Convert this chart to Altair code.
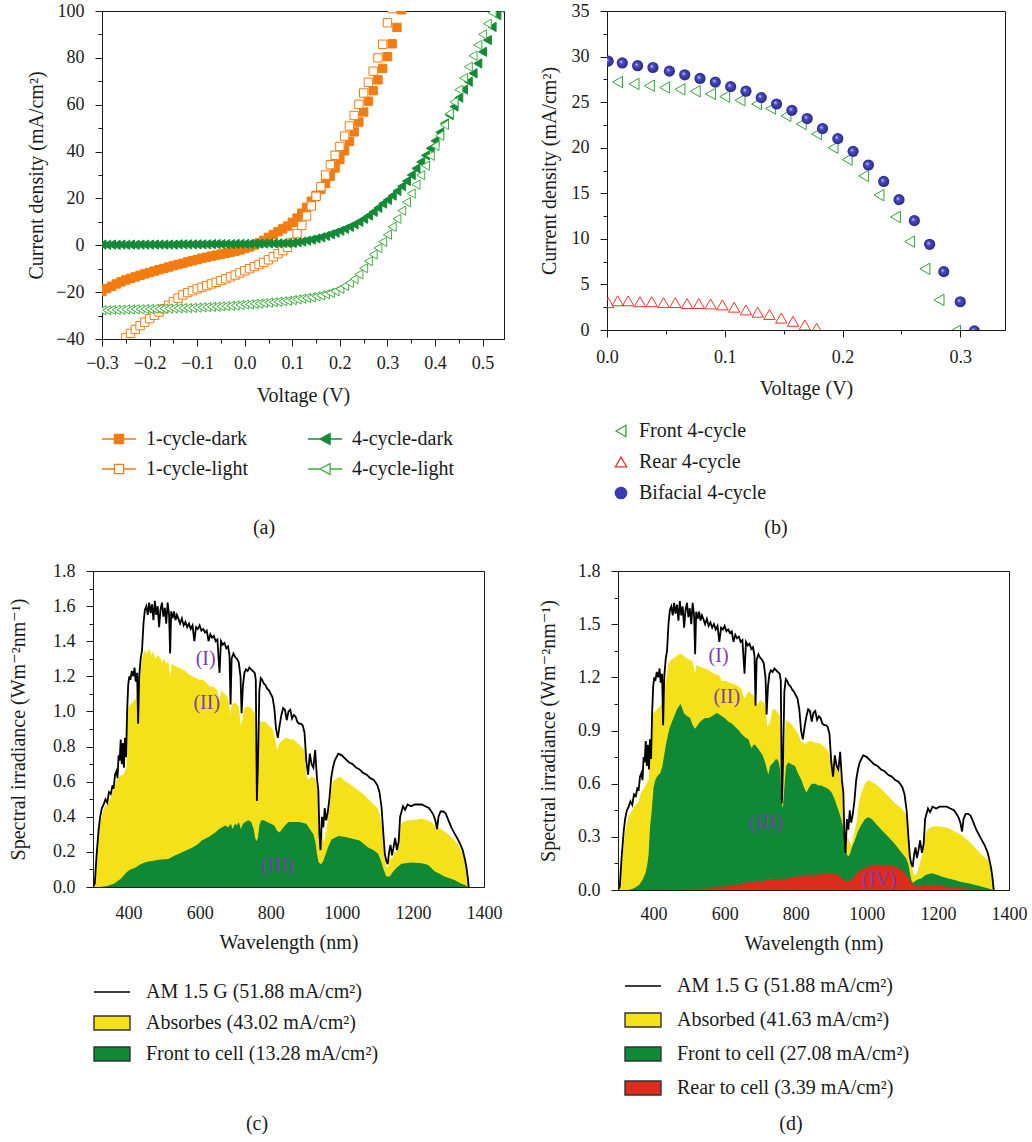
import altair as alt
import pandas as pd

SERIF = "Liberation Serif, DejaVu Serif, serif"
INK = "#1a1a1a"
ORANGE = "#f47b10"
GREEN_D = "#138a36"
GREEN_L = "#3fae3f"
B_GREEN = "#2fa534"
B_RED = "#e8352a"
B_BLUE = "#3a3bb0"
YEL = "#f4e11a"
GRN = "#0f8936"
RED = "#dc2c1c"
PURPLE = "#7a3cb0"

# ---------------- panel (a) ----------------
V_GRID = [-0.30, -0.29, -0.28, -0.27, -0.26, -0.25, -0.24, -0.23, -0.22, -0.21,
          -0.20, -0.19, -0.18, -0.17, -0.16, -0.15, -0.14, -0.13, -0.12, -0.11,
          -0.10, -0.09, -0.08, -0.07, -0.06, -0.05, -0.04, -0.03, -0.02, -0.01,
          0.00, 0.01, 0.02, 0.03, 0.04, 0.05, 0.06, 0.07, 0.08, 0.09,
          0.10, 0.11, 0.12, 0.13, 0.14, 0.15, 0.16, 0.17, 0.18, 0.19,
          0.20, 0.21, 0.22, 0.23, 0.24, 0.25, 0.26, 0.27, 0.28, 0.29,
          0.30, 0.31, 0.32, 0.33, 0.34, 0.35, 0.36, 0.37, 0.38, 0.39,
          0.40, 0.41, 0.42, 0.43, 0.44, 0.45, 0.46, 0.47, 0.48, 0.49,
          0.50, 0.51, 0.52, 0.53, 0.54]

a_j_1dark = [-19.6, -18.5, -17.5, -16.5, -15.6, -14.8, -14.1, -13.5, -12.8, -12.2,
             -11.6, -11.0, -10.4, -9.9, -9.3, -8.7, -8.2, -7.7, -7.1, -6.6,
             -6.1, -5.5, -5.1, -4.6, -4.2, -3.8, -3.4, -3.0, -2.5, -2.0,
             -1.4, -0.7, 0.1, 1.0, 2.1, 3.4, 4.6, 5.8, 7.0, 8.2,
             9.8, 11.6, 13.7, 16.2, 18.8, 21.3, 23.9, 26.4, 29.5, 33.0,
             36.6, 40.3, 44.3, 48.4, 52.6, 56.9, 61.5, 66.0, 70.6, 75.5,
             80.5, 86.0, 93.0, 100.5]
a_j_1light = [-39.4, -37.6, -35.9, -34.3, -32.8, -31.3, -29.9, -28.5, -27.1, -25.6,
              -24.1, -22.6, -21.2, -20.2, -19.4, -18.6, -17.9, -17.2, -16.5, -15.8,
              -15.1, -14.3, -13.5, -12.7, -11.8, -10.9, -10.0, -9.1, -8.2, -7.3,
              -6.2, -4.9, -3.6, -2.3, -0.9, 1.2, 5.0, 8.5, 12.5, 16.8,
              20.9, 25.0, 30.0, 34.4, 38.4, 42.2, 46.6, 50.9, 55.4, 60.2,
              65.0, 69.6, 74.3, 80.0, 85.8, 95.0, 101.0]
a_j_4dark = [0.3, 0.2, 0.3, 0.2, 0.3, 0.2, 0.3, 0.2, 0.3, 0.3,
             0.3, 0.3, 0.3, 0.3, 0.3, 0.3, 0.4, 0.4, 0.4, 0.4,
             0.4, 0.4, 0.4, 0.5, 0.5, 0.5, 0.5, 0.5, 0.6, 0.6,
             0.6, 0.6, 0.7, 0.7, 0.7, 0.8, 0.8, 0.8, 0.9, 0.9,
             1.0, 1.3, 1.6, 2.0, 2.4, 2.9, 3.4, 4.0, 4.7, 5.4,
             6.2, 7.0, 7.9, 8.9, 10.0, 11.3, 12.7, 14.3, 16.0, 17.8,
             19.4, 21.2, 23.2, 25.2, 27.4, 30.0, 32.8, 35.6, 38.4, 41.4,
             44.6, 48.2, 52.0, 55.6, 59.2, 63.0, 66.5, 69.8, 73.4, 77.6,
             82.6, 87.6, 93.2, 98.2, 101.0]
a_j_4light = [-27.8, -27.7, -27.6, -27.6, -27.5, -27.4, -27.4, -27.3, -27.3, -27.2,
              -27.2, -27.1, -27.1, -27.0, -27.0, -26.9, -26.9, -26.8, -26.8, -26.7,
              -26.6, -26.5, -26.4, -26.3, -26.2, -26.1, -26.0, -25.8, -25.7, -25.5,
              -25.3, -25.2, -25.0, -24.9, -24.7, -24.5, -24.3, -24.1, -23.9, -23.7,
              -23.4, -23.1, -22.8, -22.5, -22.2, -21.8, -21.4, -20.9, -20.3, -19.6,
              -18.6, -17.4, -16.0, -14.4, -12.4, -9.8, -6.8, -3.9, -1.2, 1.5,
              4.5, 7.9, 11.3, 14.8, 18.4, 22.1, 25.9, 29.9, 34.0, 38.2,
              42.4, 46.8, 51.4, 56.2, 61.2, 66.4, 71.4, 76.2, 80.9, 85.5,
              90.0, 94.6, 99.3, 104.0]
a_names = ["1-cycle-dark", "1-cycle-light", "4-cycle-dark", "4-cycle-light"]
a_xticks = [-0.3, -0.25, -0.2, -0.15, -0.1, -0.05, 0.0, 0.05, 0.1, 0.15, 0.2, 0.25, 0.3, 0.35, 0.4, 0.45, 0.5]
a_yticks = [-40, -30, -20, -10, 0, 10, 20, 30, 40, 50, 60, 70, 80, 90, 100]

# ---------------- panel (b) ----------------
b_front_v = [0.009, 0.023, 0.036, 0.049, 0.062, 0.075, 0.088, 0.100, 0.113, 0.127, 0.139, 0.152,
             0.165, 0.178, 0.192, 0.204, 0.218, 0.231, 0.245, 0.257, 0.270, 0.282, 0.296]
b_front_j = [27.2, 27.0, 26.8, 26.6, 26.4, 26.2, 25.9, 25.6, 25.2, 24.8, 24.3, 23.5,
             22.6, 21.5, 20.0, 18.7, 16.9, 14.8, 12.4, 9.7, 6.7, 3.3, -0.1]
b_rear_v = [0.001, 0.009, 0.018, 0.028, 0.038, 0.048, 0.058, 0.068, 0.078, 0.088,
            0.098, 0.108, 0.118, 0.128, 0.138, 0.148, 0.158, 0.168, 0.178]
b_rear_j = [3.0, 3.2, 3.2, 3.1, 3.1, 3.0, 3.0, 2.9, 2.9, 2.85,
            2.75, 2.5, 2.2, 1.95, 1.7, 1.3, 0.95, 0.55, 0.2]
b_bif_v = [0.001, 0.013, 0.026, 0.039, 0.053, 0.066, 0.079, 0.092, 0.105, 0.118, 0.131, 0.144,
           0.157, 0.170, 0.183, 0.196, 0.209, 0.222, 0.235, 0.248, 0.261, 0.274, 0.286, 0.300, 0.312]
b_bif_j = [29.5, 29.3, 29.0, 28.8, 28.4, 28.0, 27.6, 27.2, 26.7, 26.2, 25.5, 24.8,
           24.1, 23.2, 22.1, 21.0, 19.6, 18.1, 16.3, 14.3, 12.0, 9.4, 6.4, 3.1, -0.1]
b_names = ["Front 4-cycle", "Rear 4-cycle", "Bifacial 4-cycle"]
b_xticks = [0.0, 0.05, 0.1, 0.15, 0.2, 0.25, 0.3]
b_yticks = [0, 2.5, 5, 7.5, 10, 12.5, 15, 17.5, 20, 22.5, 25, 27.5, 30, 32.5, 35]

# ---------------- panels (c) and (d): AM 1.5 G ----------------
am_nm = [300, 305, 310, 316, 320, 325, 330, 335, 340, 345,
         350, 355, 358, 362, 366, 369, 372, 375, 378, 381,
         384, 387, 390, 393, 396, 399, 402, 405, 409, 413,
         417, 420, 424, 427, 430, 434, 438, 442, 446, 450,
         454, 458, 462, 466, 470, 474, 478, 482, 486, 490,
         494, 498, 502, 506, 510, 514, 517, 520, 524, 528,
         532, 536, 540, 545, 550, 555, 560, 565, 570, 575,
         580, 585, 590, 595, 600, 605, 610, 615, 620, 625,
         630, 635, 640, 645, 650, 656, 660, 665, 670, 675,
         680, 684, 687, 690, 695, 700, 705, 710, 715, 718,
         722, 726, 730, 735, 740, 745, 750, 755, 758, 761,
         764, 768, 772, 776, 780, 785, 790, 795, 800, 805,
         810, 815, 820, 825, 830, 835, 840, 845, 850, 855,
         860, 865, 870, 875, 880, 885, 890, 895, 900, 905,
         910, 915, 920, 925, 930, 934, 937, 940, 944, 948,
         952, 956, 960, 965, 970, 975, 980, 985, 990, 1000,
         1010, 1020, 1030, 1040, 1050, 1060, 1070, 1080, 1090, 1100,
         1106, 1112, 1117, 1121, 1125, 1129, 1133, 1137, 1141, 1145,
         1150, 1155, 1160, 1164, 1168, 1172, 1178, 1185, 1195, 1205,
         1215, 1225, 1235, 1245, 1252, 1258, 1263, 1268, 1272, 1278,
         1285, 1292, 1300, 1308, 1316, 1324, 1332, 1340, 1346, 1350,
         1354, 1357]
am_val = [0.0, 0.02, 0.18, 0.33, 0.40, 0.45, 0.47, 0.50, 0.48, 0.54,
          0.53, 0.58, 0.56, 0.64, 0.66, 0.62, 0.75, 0.72, 0.84, 0.70,
          0.82, 0.68, 0.85, 0.74, 1.00, 1.15, 1.20, 1.18, 1.23, 1.20,
          1.25, 1.17, 1.22, 0.93, 1.20, 1.30, 1.35, 1.50, 1.58, 1.60,
          1.55, 1.62, 1.56, 1.61, 1.52, 1.63, 1.55, 1.60, 1.48, 1.58,
          1.62, 1.54, 1.59, 1.50, 1.62, 1.55, 1.33, 1.57, 1.53, 1.57,
          1.52, 1.55, 1.53, 1.50, 1.53, 1.49, 1.51, 1.48, 1.50, 1.47,
          1.49, 1.40, 1.48, 1.47, 1.49, 1.46, 1.47, 1.45, 1.46, 1.40,
          1.44, 1.42, 1.43, 1.40, 1.41, 1.22, 1.40, 1.38, 1.39, 1.36,
          1.37, 1.32, 1.04, 1.30, 1.33, 1.31, 1.30, 1.28, 1.20, 0.99,
          1.15, 1.22, 1.24, 1.23, 1.25, 1.24, 1.23, 1.22, 1.18, 0.49,
          0.70, 1.12, 1.19, 1.18, 1.16, 1.15, 1.13, 1.12, 1.10, 1.08,
          1.02, 0.90, 0.85, 0.92, 0.98, 1.02, 1.01, 0.95, 1.00, 1.01,
          0.96, 0.98, 0.97, 0.94, 0.93, 0.93, 0.92, 0.88, 0.72, 0.64,
          0.76, 0.70, 0.68, 0.78, 0.62, 0.55, 0.30, 0.21, 0.40, 0.34,
          0.45, 0.38, 0.42, 0.50, 0.62, 0.68, 0.72, 0.74, 0.76, 0.75,
          0.73, 0.71, 0.70, 0.68, 0.67, 0.65, 0.64, 0.62, 0.61, 0.58,
          0.54, 0.45, 0.30, 0.19, 0.15, 0.13, 0.20, 0.24, 0.18, 0.22,
          0.28, 0.21, 0.26, 0.40, 0.43, 0.46, 0.44, 0.47, 0.46, 0.47,
          0.47, 0.47, 0.46, 0.45, 0.43, 0.41, 0.38, 0.33, 0.40, 0.43,
          0.43, 0.42, 0.38, 0.34, 0.31, 0.28, 0.25, 0.21, 0.16, 0.12,
          0.06, 0.0]

# (c) absorbed and front-to-cell
yc_nm = [300, 305, 310, 316, 320, 325, 330, 335, 340, 345,
         350, 355, 360, 365, 370, 375, 380, 385, 390, 394,
         396, 399, 405, 410, 415, 420, 424, 427, 430, 434,
         438, 442, 446, 452, 458, 464, 470, 476, 482, 488,
         494, 500, 506, 512, 517, 522, 530, 540, 550, 560,
         570, 580, 590, 600, 610, 620, 630, 640, 650, 656,
         660, 670, 680, 687, 690, 700, 710, 716, 720, 725,
         735, 745, 755, 758, 761, 764, 768, 775, 785, 795,
         805, 812, 818, 825, 835, 845, 855, 865, 875, 885,
         895, 900, 905, 915, 925, 932, 937, 940, 945, 950,
         957, 965, 970, 975, 985, 995, 1005, 1020, 1040, 1060,
         1080, 1100, 1106, 1112, 1117, 1121, 1125, 1130, 1135, 1141,
         1148, 1155, 1160, 1165, 1170, 1186, 1200, 1224, 1240, 1252,
         1265, 1280, 1299, 1315, 1327, 1340, 1346, 1350, 1354, 1357]
yc_val = [0.0, 0.02, 0.15, 0.30, 0.37, 0.41, 0.44, 0.47, 0.46, 0.50,
          0.50, 0.55, 0.56, 0.60, 0.62, 0.63, 0.64, 0.64, 0.66, 0.68,
          0.92, 1.02, 1.04, 1.05, 1.06, 1.07, 1.10, 0.93, 1.15, 1.22,
          1.30, 1.33, 1.35, 1.33, 1.36, 1.32, 1.34, 1.30, 1.32, 1.31,
          1.28, 1.30, 1.27, 1.29, 1.20, 1.27, 1.26, 1.25, 1.24, 1.23,
          1.21, 1.20, 1.19, 1.18, 1.18, 1.16, 1.14, 1.14, 1.12, 1.05,
          1.12, 1.10, 1.08, 0.98, 1.04, 1.05, 1.03, 0.92, 0.95, 1.02,
          1.03, 1.02, 0.99, 0.96, 0.48, 0.65, 0.95, 0.94, 0.94, 0.92,
          0.90, 0.85, 0.78, 0.82, 0.84, 0.85, 0.84, 0.84, 0.82, 0.80,
          0.78, 0.65, 0.61, 0.63, 0.62, 0.55, 0.28, 0.20, 0.32, 0.25,
          0.33, 0.45, 0.55, 0.60, 0.62, 0.63, 0.61, 0.59, 0.56, 0.53,
          0.49, 0.45, 0.42, 0.36, 0.25, 0.15, 0.12, 0.11, 0.17, 0.16,
          0.20, 0.20, 0.24, 0.35, 0.37, 0.38, 0.38, 0.39, 0.38, 0.37,
          0.34, 0.33, 0.30, 0.27, 0.24, 0.19, 0.15, 0.11, 0.05, 0.0]
gc_nm = [300, 320, 340, 360, 380, 395, 405, 419, 430, 445,
         456, 470, 485, 500, 512, 530, 548, 560, 580, 595,
         606, 625, 644, 655, 663, 672, 680, 688, 692, 700,
         705, 710, 716, 722, 728, 737, 745, 752, 756, 760,
         764, 768, 773, 780, 790, 800, 810, 818, 825, 832,
         840, 850, 860, 870, 880, 900, 910, 920, 926, 930,
         935, 942, 948, 955, 962, 971, 990, 1010, 1030, 1050,
         1074, 1090, 1102, 1110, 1116, 1125, 1135, 1145, 1154, 1168,
         1196, 1225, 1243, 1261, 1275, 1289, 1303, 1317, 1335, 1348,
         1354]
gc_val = [0.0, 0.0, 0.005, 0.02, 0.05, 0.085, 0.10, 0.11, 0.125, 0.14,
          0.145, 0.15, 0.155, 0.158, 0.16, 0.18, 0.195, 0.206, 0.225, 0.243,
          0.265, 0.285, 0.31, 0.33, 0.34, 0.35, 0.34, 0.36, 0.33, 0.36,
          0.35, 0.37, 0.33, 0.36, 0.37, 0.38, 0.37, 0.33, 0.28, 0.26,
          0.28, 0.35, 0.38, 0.38, 0.37, 0.36, 0.35, 0.32, 0.31, 0.33,
          0.35, 0.37, 0.37, 0.37, 0.37, 0.36, 0.33, 0.30, 0.25, 0.19,
          0.14, 0.13, 0.15, 0.19, 0.23, 0.27, 0.29, 0.285, 0.275, 0.265,
          0.225, 0.21, 0.19, 0.15, 0.11, 0.06, 0.06, 0.09, 0.11, 0.133,
          0.139, 0.135, 0.126, 0.09, 0.075, 0.06, 0.05, 0.04, 0.02, 0.01,
          0.0]

# (d) absorbed, front-to-cell and rear-to-cell
yd_nm = [300, 305, 311, 320, 330, 340, 350, 358, 365, 372,
         380, 386, 390, 395, 400, 410, 420, 424, 428, 432,
         438, 442, 450, 460, 470, 480, 490, 500, 510, 517,
         520, 530, 545, 555, 570, 585, 592, 600, 615, 630,
         645, 656, 667, 680, 686, 690, 700, 714, 720, 728,
         735, 742, 750, 755, 761, 765, 772, 779, 790, 800,
         807, 815, 826, 835, 845, 855, 865, 873, 885, 892,
         900, 910, 920, 929, 935, 940, 945, 950, 957, 965,
         971, 978, 985, 995, 1004, 1023, 1041, 1060, 1079, 1098,
         1110, 1116, 1121, 1126, 1130, 1135, 1142, 1149, 1156, 1163,
         1170, 1177, 1190, 1200, 1215, 1229, 1247, 1266, 1285, 1300,
         1313, 1327, 1341, 1350, 1354, 1357]
yd_val = [0.0, 0.05, 0.15, 0.33, 0.42, 0.45, 0.48, 0.50, 0.55, 0.57,
          0.60, 0.62, 0.75, 0.98, 1.00, 1.02, 1.04, 1.06, 0.95, 1.15,
          1.22, 1.28, 1.30, 1.31, 1.33, 1.33, 1.31, 1.30, 1.29, 1.22,
          1.27, 1.26, 1.25, 1.24, 1.22, 1.21, 1.18, 1.18, 1.17, 1.16,
          1.14, 1.08, 1.12, 1.10, 1.08, 1.04, 1.07, 1.05, 0.92, 0.95,
          1.02, 1.02, 1.00, 0.98, 0.47, 0.70, 0.96, 0.95, 0.93, 0.90,
          0.88, 0.84, 0.82, 0.84, 0.84, 0.83, 0.83, 0.82, 0.80, 0.78,
          0.74, 0.70, 0.67, 0.64, 0.50, 0.35, 0.30, 0.28, 0.25, 0.33,
          0.38, 0.50, 0.55, 0.60, 0.62, 0.60, 0.57, 0.53, 0.49, 0.46,
          0.43, 0.40, 0.25, 0.15, 0.10, 0.08, 0.10, 0.15, 0.20, 0.30,
          0.34, 0.35, 0.36, 0.36, 0.355, 0.35, 0.33, 0.31, 0.28, 0.25,
          0.22, 0.19, 0.17, 0.12, 0.05, 0.0]
gd_nm = [300, 330, 345, 360, 370, 378, 383, 386, 390, 395,
         400, 405, 410, 419, 425, 433, 440, 446, 452, 460,
         466, 472, 476, 480, 485, 489, 495, 503, 510, 517,
         524, 531, 538, 545, 555, 564, 572, 578, 585, 592,
         600, 611, 620, 630, 640, 648, 658, 667, 672, 676,
         681, 686, 693, 700, 707, 714, 719, 723, 728, 737,
         745, 751, 756, 760, 764, 768, 773, 779, 788, 798,
         806, 816, 823, 830, 838, 845, 855, 864, 872, 882,
         892, 901, 910, 920, 928, 934, 940, 944, 948, 952,
         958, 966, 975, 985, 995, 1004, 1014, 1023, 1041, 1060,
         1079, 1098, 1110, 1116, 1121, 1126, 1131, 1135, 1145, 1154,
         1165, 1182, 1200, 1210, 1230, 1247, 1265, 1285, 1305, 1322,
         1340, 1355]
gd_val = [0.0, 0.0, 0.01, 0.03, 0.06, 0.10, 0.15, 0.20, 0.35, 0.45,
          0.58, 0.62, 0.64, 0.66, 0.70, 0.80, 0.87, 0.92, 0.95, 0.99,
          1.02, 1.04, 1.05, 1.03, 1.00, 0.99, 0.98, 0.97, 0.93, 0.91,
          0.93, 0.95, 0.96, 0.97, 0.97, 0.98, 0.99, 1.00, 0.99, 0.98,
          0.97, 0.95, 0.94, 0.92, 0.90, 0.88, 0.86, 0.85, 0.82, 0.80,
          0.82, 0.82, 0.80, 0.78, 0.76, 0.72, 0.68, 0.65, 0.70, 0.72,
          0.74, 0.73, 0.68, 0.50, 0.46, 0.58, 0.70, 0.72, 0.71, 0.70,
          0.66, 0.62, 0.58, 0.55, 0.58, 0.60, 0.60, 0.59, 0.59, 0.58,
          0.57, 0.55, 0.51, 0.45, 0.40, 0.35, 0.25, 0.20, 0.19, 0.20,
          0.24, 0.28, 0.33, 0.37, 0.40, 0.41, 0.40, 0.38, 0.34, 0.30,
          0.26, 0.21, 0.18, 0.15, 0.10, 0.05, 0.04, 0.05, 0.06, 0.066,
          0.085, 0.095, 0.085, 0.076, 0.065, 0.057, 0.045, 0.038, 0.028, 0.02,
          0.01, 0.0]
rd_nm = [300, 385, 450, 500, 550, 572, 590, 605, 619, 635,
         650, 666, 680, 690, 700, 713, 725, 740, 750, 760,
         770, 780, 795, 807, 820, 830, 840, 853, 865, 878,
         891, 900, 910, 919, 928, 935, 942, 950, 957, 966,
         976, 990, 1004, 1020, 1041, 1060, 1079, 1093, 1107, 1117,
         1126, 1135, 1144, 1160, 1182, 1200, 1229, 1255, 1276, 1300,
         1322]
rd_val = [0.0, 0.0, 0.002, 0.005, 0.008, 0.012, 0.018, 0.022, 0.025, 0.03,
          0.035, 0.042, 0.045, 0.05, 0.048, 0.052, 0.056, 0.06, 0.062, 0.064,
          0.062, 0.068, 0.074, 0.076, 0.078, 0.082, 0.084, 0.086, 0.088, 0.092,
          0.095, 0.094, 0.09, 0.085, 0.07, 0.055, 0.048, 0.05, 0.058, 0.08,
          0.104, 0.12, 0.133, 0.14, 0.142, 0.14, 0.133, 0.12, 0.095, 0.07,
          0.04, 0.025, 0.02, 0.025, 0.03, 0.025, 0.017, 0.012, 0.01, 0.005,
          0.0]

c_lab_nm = [617, 620, 820]
c_lab_val = [1.30, 1.05, 0.12]
c_lab_txt = ["(I)", "(II)", "(III)"]
d_lab_nm = [583, 606, 717, 1035]
d_lab_val = [1.32, 1.09, 0.38, 0.057]
d_lab_txt = ["(I)", "(II)", "(III)", "(IV)"]

c_names = ["AM 1.5 G (51.88 mA/cm²)", "Absorbes (43.02 mA/cm²)", "Front to cell (13.28 mA/cm²)"]
d_names = ["AM 1.5 G (51.88 mA/cm²) ", "Absorbed (41.63 mA/cm²)", "Front to cell (27.08 mA/cm²)",
           "Rear to cell (3.39 mA/cm²)"]
nm_ticks = [400, 600, 800, 1000, 1200, 1400]
c_yticks = [0.0, 0.1, 0.2, 0.3, 0.4, 0.5, 0.6, 0.7, 0.8, 0.9, 1.0, 1.1, 1.2, 1.3, 1.4, 1.5, 1.6, 1.7, 1.8]
d_yticks = [0.0, 0.15, 0.3, 0.45, 0.6, 0.75, 0.9, 1.05, 1.2, 1.35, 1.5, 1.65, 1.8]

IND = dict(shape="independent", fill="independent", stroke="independent")


# ---------------- helpers ----------------
def ax(title, values, fmt, test=None, lp=11, tp=10, ticks=True):
    kw = dict(title=title, values=values, format=fmt, labelPadding=lp, titlePadding=tp,
              labelFlush=False, labelOverlap=False, ticks=ticks)
    if test is not None:
        kw["labelExpr"] = "(" + test + ") ? datum.label : ''"
        kw["tickSize"] = {"condition": {"test": test, "value": 7}, "value": 4}
    return alt.Axis(**kw)


def legend_layer(xf, yf, xenc, yenc, names, shapes, fills, strokes, leg):
    df = pd.DataFrame({xf: [0.0] * len(names), yf: [0.0] * len(names), "s": names})
    return alt.Chart(df).transform_filter("false").mark_point(filled=False, opacity=1).encode(
        x=xenc, y=yenc,
        shape=alt.Shape("s:N", scale=alt.Scale(domain=names, range=shapes), legend=leg),
        fill=alt.Fill("s:N", scale=alt.Scale(domain=names, range=fills), legend=leg),
        stroke=alt.Stroke("s:N", scale=alt.Scale(domain=names, range=strokes), legend=leg),
    )


def tag(t, px, py):
    return alt.Chart(pd.DataFrame({"t": [t]})).mark_text(
        font=SERIF, fontSize=20, color=INK).encode(x=alt.value(px), y=alt.value(py), text="t:N")


def spacer(w):
    return alt.Chart(pd.DataFrame({"z": [0]})).mark_point(opacity=0).encode(
        x=alt.value(0), y=alt.value(0)).properties(width=w, height=10,
                                                   view=alt.ViewBackground(stroke="transparent"))


# ---------------- panel (a) ----------------
XA = alt.X("v:Q", scale=alt.Scale(domain=[-0.3, 0.545], nice=False, zero=False),
           axis=ax("Voltage (V)", a_xticks, ".1f", "abs(round(datum.value*20)) % 2 == 0", lp=8, tp=13))
YA = alt.Y("j:Q", scale=alt.Scale(domain=[-40, 100], nice=False, zero=False),
           axis=ax("Current density (mA/cm²)", a_yticks, "d", "abs(datum.value) % 20 == 0", lp=11, tp=9))


def pts(xs, ys, xenc, yenc, shape, fill, stroke, size):
    df = pd.DataFrame({"v": xs, "j": ys})
    return alt.Chart(df).mark_point(shape=shape, filled=True, fill=fill, stroke=stroke,
                                    strokeWidth=1, size=size, opacity=1, clip=True).encode(x=xenc, y=yenc)


a_layers = [
    pts(V_GRID[:64], a_j_1dark, XA, YA, "square", ORANGE, ORANGE, 70),
    pts(V_GRID[5:62], a_j_1light, XA, YA, "square", "white", ORANGE, 70),
    pts(V_GRID[:85], a_j_4dark, XA, YA, "triangle-left", GREEN_D, GREEN_D, 85),
    pts(V_GRID[:84], a_j_4light, XA, YA, "triangle-left", "white", GREEN_L, 85),
]
sq = "M-1,0H-0.27M0.27,0H1M-0.27,-0.27H0.27V0.27H-0.27Z"
tri = "M-1,0H-0.3M0.3,0H1M-0.3,0L0.3,-0.32L0.3,0.32Z"
leg_a = alt.Legend(title=None, orient="none", legendX=-1, legendY=410, direction="vertical",
                   columns=2, columnPadding=56, rowPadding=2, symbolSize=1156, labelOffset=9,
                   symbolStrokeWidth=1.3, labelFont=SERIF, labelFontSize=20, labelColor=INK,
                   labelLimit=500)
a_layers.append(legend_layer("v", "j", XA, YA, a_names, [sq, sq, tri, tri],
                             [ORANGE, "white", GREEN_D, "white"],
                             [ORANGE, ORANGE, GREEN_D, GREEN_L], leg_a))
a_layers.append(tag("(a)", 162, 517))
A = alt.layer(*a_layers).properties(width=402, height=328)

# ---------------- panel (b) ----------------
XB = alt.X("v:Q", scale=alt.Scale(domain=[0, 0.338], nice=False, zero=False),
           axis=ax("Voltage (V)", b_xticks, ".1f", "round(datum.value*20) % 2 == 0", lp=11, tp=12))
YB = alt.Y("j:Q", scale=alt.Scale(domain=[0, 35], nice=False, zero=False),
           axis=ax("Current density (mA/cm²)", b_yticks, "d", "datum.value % 5 == 0", lp=11, tp=12))
bif_grad = alt.RadialGradient(gradient="radial", x1=0.38, y1=0.38, r1=0.0, x2=0.5, y2=0.5, r2=0.55,
                              stops=[alt.GradientStop(offset=0, color="#d8d8ff"),
                                     alt.GradientStop(offset=0.3, color="#4a4cc4"),
                                     alt.GradientStop(offset=1, color="#23247e")])
b_layers = [
    pts(b_front_v, b_front_j, XB, YB, "triangle-left", "transparent", B_GREEN, 130),
    pts(b_rear_v, b_rear_j, XB, YB, "triangle-up", "transparent", B_RED, 130),
    alt.Chart(pd.DataFrame({"v": b_bif_v, "j": b_bif_j})).mark_point(
        shape="circle", filled=True, fill=bif_grad, strokeWidth=0, size=125, opacity=1, clip=True
    ).encode(x=XB, y=YB),
]
leg_b = alt.Legend(title=None, orient="none", legendX=4, legendY=410, direction="vertical",
                   rowPadding=11, symbolSize=130, labelOffset=8, symbolStrokeWidth=1.3,
                   labelFont=SERIF, labelFontSize=20, labelColor=INK, labelLimit=500)
b_layers.append(legend_layer("v", "j", XB, YB, b_names, ["triangle-left", "triangle-up", "circle"],
                             ["transparent", "transparent", B_BLUE], [B_GREEN, B_RED, B_BLUE], leg_b))
b_layers.append(tag("(b)", 169, 517))
B = alt.layer(*b_layers).properties(width=398, height=319)

# ---------------- panels (c), (d) ----------------
ytitle = "Spectral irradiance (Wm⁻²nm⁻¹)"


def spec_panel(yticks, ytest, xlp, ytp, areas, labs, names, fills, strokes, shapes, legY, legX, rowpad, sub, subx):
    X = alt.X("nm:Q", scale=alt.Scale(domain=[300, 1400], nice=False, zero=False),
              axis=ax("Wavelength (nm)", nm_ticks, "d", None, lp=xlp, tp=10, ticks=False))
    Y = alt.Y("val:Q", scale=alt.Scale(domain=[0, 1.8], nice=False, zero=False),
              axis=ax(ytitle, yticks, ".1f", ytest, lp=11, tp=ytp))
    layers = []
    for xs, ys, col in areas:
        layers.append(alt.Chart(pd.DataFrame({"nm": xs, "val": ys})).mark_area(
            color=col, opacity=1, clip=True).encode(x=X, y=Y))
    layers.append(alt.Chart(pd.DataFrame({"nm": am_nm, "val": am_val})).mark_line(
        color="black", strokeWidth=1.8, clip=True).encode(x=X, y=Y))
    ln, lv, lt = labs
    layers.append(alt.Chart(pd.DataFrame({"nm": ln, "val": lv, "lab": lt})).mark_text(
        font=SERIF, fontSize=20, color=PURPLE).encode(x=X, y=Y, text="lab:N"))
    leg = alt.Legend(title=None, orient="none", legendX=legX, legendY=legY, direction="vertical",
                     rowPadding=rowpad, symbolSize=1296, labelOffset=15, symbolStrokeWidth=1.4,
                     labelFont=SERIF, labelFontSize=20, labelColor=INK, labelLimit=600)
    layers.append(legend_layer("nm", "val", X, Y, names, shapes, fills, strokes, leg))
    layers.append(tag(sub, subx, 553))
    return layers


line_sym = "M-1,0H1"
rect_sym = "M-1,-0.39H1V0.39H-1Z"
C = alt.layer(*spec_panel(
    c_yticks, "round(datum.value*10) % 2 == 0", 17, 24,
    [(yc_nm, yc_val, YEL), (gc_nm, gc_val, GRN)],
    (c_lab_nm, c_lab_val, c_lab_txt),
    c_names, ["transparent", YEL, GRN], ["black", "#333333", "#333333"],
    [line_sym, rect_sym, rect_sym], 402, 0, 2, "(c)", 164)).properties(width=391, height=316)
D = alt.layer(*spec_panel(
    d_yticks, "round(datum.value*100/15) % 2 == 0", 15, 19,
    [(yd_nm, yd_val, YEL), (gd_nm, gd_val, GRN), (rd_nm, rd_val, RED)],
    (d_lab_nm, d_lab_val, d_lab_txt),
    d_names, ["transparent", YEL, GRN, RED], ["black", "#333333", "#333333", "#333333"],
    [line_sym, rect_sym, rect_sym, rect_sym], 396, 6, 5, "(d)", 173)).properties(width=391, height=319)

row1 = alt.hconcat(spacer(9), A, spacer(103), B, spacing=0, bounds="flush").resolve_scale(**IND).resolve_legend(**IND)
row2 = alt.hconcat(C, spacer(134), D, spacing=0, bounds="flush").resolve_scale(**IND).resolve_legend(**IND)
chart = alt.vconcat(row1, row2, spacing=560, bounds="flush").resolve_scale(**IND).resolve_legend(**IND).properties(
    padding={"left": 8, "top": 1, "right": 2, "bottom": 2}
).configure_view(stroke=INK, strokeWidth=1).configure_axis(
    labelFont=SERIF, titleFont=SERIF, labelFontSize=18, titleFontSize=20, titleFontWeight="normal",
    labelColor=INK, titleColor=INK, domainColor=INK, tickColor=INK, grid=False, domainWidth=1, tickWidth=1
).configure_legend(labelFont=SERIF, labelFontSize=20)

chart.save("out.html", embed_options={"renderer": "svg", "actions": False})
